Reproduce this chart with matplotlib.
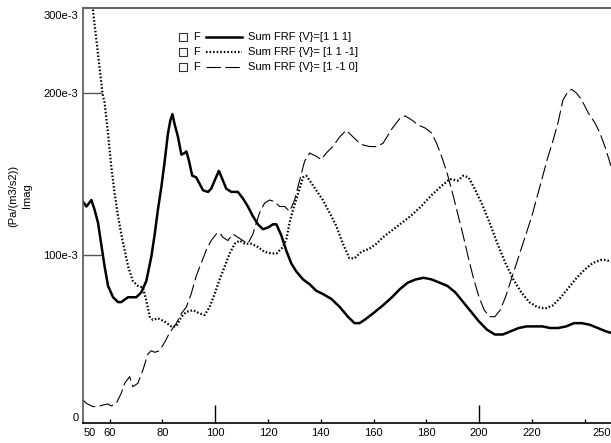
import matplotlib
matplotlib.use("Agg")
import matplotlib.pyplot as plt
from matplotlib.ticker import FixedLocator, FixedFormatter

plt.rcParams['font.family'] = ['Liberation Sans', 'DejaVu Sans']
plt.rcParams['font.size'] = 8

# ---- data ----
f_111 = [49.9, 51.2, 53.1, 54.3, 55.6, 56.8, 58.1, 59.4, 61.3, 63.2, 64.4, 67.0, 70.1, 72.0,
         73.9, 75.8, 77.1, 78.3, 79.6, 80.8, 82.1, 83.0, 83.8, 84.6, 85.9, 87.2, 88.4, 89.1,
         90.1, 91.3, 92.8, 94.1, 95.4, 97.3, 98.5, 99.8, 101.4, 102.7, 104.2, 106.1, 108.6,
         110.5, 112.4, 114.3, 116.2, 118.1, 120.0, 121.9, 123.2, 125.1, 126.9, 128.8, 130.7,
         133.3, 135.8, 138.3, 140.8, 144.0, 147.2, 150.3, 152.8, 154.7, 156.6, 159.8, 163.6,
         167, 170, 173, 176, 179, 182, 185, 188, 191, 194, 197, 200, 203, 206, 209, 212,
         215, 218, 221, 224, 227, 230, 233, 236, 239, 242, 245, 248, 250]
v_111 = [0.133, 0.130, 0.134, 0.128, 0.120, 0.107, 0.093, 0.081, 0.074, 0.071, 0.071, 0.074,
         0.074, 0.077, 0.084, 0.099, 0.113, 0.128, 0.142, 0.157, 0.175, 0.183, 0.187, 0.181,
         0.173, 0.162, 0.163, 0.164, 0.158, 0.149, 0.148, 0.144, 0.140, 0.139, 0.141, 0.146,
         0.152, 0.147, 0.141, 0.139, 0.139, 0.135, 0.130, 0.124, 0.119, 0.116, 0.117, 0.119,
         0.119, 0.112, 0.103, 0.095, 0.090, 0.085, 0.082, 0.078, 0.076, 0.073, 0.068, 0.062,
         0.058, 0.058, 0.060, 0.064, 0.069,
         0.074, 0.079, 0.083, 0.085, 0.086, 0.085, 0.083, 0.081, 0.077, 0.071, 0.065, 0.059,
         0.054, 0.051, 0.051, 0.053, 0.055, 0.056, 0.056, 0.056, 0.055, 0.055, 0.056, 0.058,
         0.058, 0.057, 0.055, 0.053, 0.052]

f_11m1 = [49.9, 53.6, 57.3, 58.1, 59.4, 60.6, 61.9, 63.2, 64.4, 65.7, 67.0, 68.8, 70.7, 72.6,
          73.9, 75.2, 76.4, 78.3, 80.8, 83.4, 85.3, 87.2, 89.1, 91.6, 94.1, 96.0, 97.9, 99.8,
          101.7, 103.6, 105.5, 107.4, 109.3, 111.2, 113.7, 116.2, 118.7, 121.3, 123.2, 125.7,
          127.0, 128.2, 129.5, 131.4, 133.3, 134.5, 135.8, 138.3, 140.8, 143.4, 145.9, 148.4,
          150.9, 152.8, 155.4, 158.5, 161.1, 163.6,
          166, 170, 174, 178, 182, 186, 189, 192, 194, 196, 198, 201, 204, 207, 210, 213,
          216, 219, 222, 225, 228, 231, 234, 237, 240, 243, 246, 248, 250]
v_11m1 = [0.298, 0.2525, 0.200, 0.194, 0.175, 0.155, 0.138, 0.124, 0.113, 0.103, 0.093, 0.084,
          0.081, 0.080, 0.072, 0.062, 0.060, 0.061, 0.059, 0.056, 0.056, 0.062, 0.065, 0.066,
          0.064, 0.063, 0.068, 0.076, 0.085, 0.093, 0.101, 0.107, 0.109, 0.107, 0.107, 0.105,
          0.102, 0.101, 0.101, 0.105, 0.110, 0.120, 0.128, 0.138, 0.148, 0.149, 0.146, 0.140,
          0.134, 0.126, 0.118, 0.107, 0.098, 0.098, 0.102, 0.104, 0.107, 0.111,
          0.114, 0.119, 0.124, 0.130, 0.137, 0.143, 0.147, 0.146, 0.149, 0.148, 0.142, 0.132,
          0.120, 0.107, 0.095, 0.085, 0.077, 0.071, 0.068, 0.067, 0.069, 0.074, 0.080, 0.086,
          0.091, 0.095, 0.097, 0.097, 0.096]

f_1m10 = [49.9, 51.2, 52.4, 53.7, 55.6, 57.5, 59.4, 60.6, 62.5, 64.4, 65.7, 67.6, 68.8, 70.7,
          72.6, 74.5, 75.8, 77.1, 78.9, 80.8, 82.7, 85.3, 87.2, 89.1, 90.9, 92.8, 94.7, 96.6,
          98.5, 100.4, 101.7, 102.9, 104.8, 106.7, 108.6, 110.5, 112.4, 114.3, 115.6, 116.8,
          118.7, 120.6, 122.5, 124.4, 126.3, 128.2, 130.1, 132.0, 133.9, 135.8, 138.3, 140.2,
          142.1, 144.6, 147.2, 149.7, 152.2, 154.1, 156.0, 158.5, 161.1, 163.6,
          167, 170.0, 172.0, 174.5, 176.9, 179.5, 182.0, 183.9, 186, 188, 190, 192, 194, 196,
          198, 200, 202, 204, 206, 208, 210, 212, 214, 216, 218, 220, 222, 224, 226, 228.1,
          229.9, 231.8, 233.7, 235.1, 237.0, 238.9, 241.4, 243.9, 245.8, 247.7, 250]
v_1m10 = [0.0106, 0.0085, 0.0075, 0.0065, 0.0065, 0.0075, 0.0081, 0.0069, 0.0085, 0.0147,
          0.0209, 0.025, 0.0188, 0.0209, 0.029, 0.039, 0.041, 0.040, 0.041, 0.046, 0.052, 0.058,
          0.064, 0.068, 0.076, 0.087, 0.095, 0.103, 0.109, 0.113, 0.114, 0.111, 0.109, 0.113,
          0.111, 0.109, 0.107, 0.113, 0.120, 0.126, 0.132, 0.134, 0.133, 0.130, 0.130, 0.127,
          0.134, 0.146, 0.158, 0.163, 0.161, 0.159, 0.163, 0.167, 0.173, 0.177, 0.173, 0.170,
          0.168, 0.167, 0.167, 0.169,
          0.178, 0.1844, 0.1859, 0.1834, 0.1803, 0.1785, 0.1754, 0.169, 0.160, 0.150, 0.138,
          0.125, 0.112, 0.098, 0.085, 0.074, 0.066, 0.062, 0.062, 0.066, 0.074, 0.084, 0.094,
          0.104, 0.114, 0.124, 0.136, 0.148, 0.160, 0.1711, 0.1816, 0.1957, 0.2009, 0.2023,
          0.1999, 0.1957, 0.1877, 0.1816, 0.1754, 0.1669, 0.155]

series_labels = ["Sum FRF {V}=[1 1 1]", "Sum FRF {V}= [1 1 -1]", "Sum FRF {V}= [1 -1 0]"]

x_major = [100, 200]
x_minor = [50, 60, 80, 120, 140, 160, 180, 220, 240, 250]
x_minor_labels = ['50', '60', '80', '120', '140', '160', '180', '220', '', '250']
y_ticks = [0.0, 0.1, 0.2, 0.2482]
y_tick_labels = ['0', '100e-3', '200e-3', '300e-3']

# ---- figure ----
fig = plt.figure(figsize=(6.11, 4.43), dpi=100)
ax = fig.add_axes([82.7 / 611, 19.7 / 443, 1 - 82.7 / 611, (423.3 - 8) / 443])

l1, = ax.plot(f_111, v_111, color='black', lw=1.8, solid_joinstyle='round')
l2, = ax.plot(f_11m1, v_11m1, color='black', lw=1.6, linestyle=(0, (0.7, 0.9)),
              dash_capstyle='butt')
l3, = ax.plot(f_1m10, v_1m10, color='black', lw=0.8, linestyle=(0, (13, 4)))

ax.set_xlim(49.8, 250)
ax.set_ylim(-0.0038, 0.2525)

ax.xaxis.set_major_locator(FixedLocator(x_major))
ax.set_xticklabels([str(v) for v in x_major])
ax.xaxis.set_minor_locator(FixedLocator(x_minor))
ax.xaxis.set_minor_formatter(FixedFormatter(x_minor_labels))
ax.tick_params(axis='x', which='major', direction='in', length=13, width=1, color='black',
               pad=3.5, labelsize=8)
ax.tick_params(axis='x', which='minor', direction='in', length=3, width=1, color='black',
               pad=3.5, labelsize=8)
mlabels = ax.xaxis.get_minor_ticks()
mlabels[0].label1.set_horizontalalignment('left')
mlabels[-1].label1.set_horizontalalignment('right')
mlabels[0].tick1line.set_visible(False)
mlabels[-1].tick1line.set_visible(False)

ax.set_yticks(y_ticks)
ax.set_yticklabels(y_tick_labels)
ax.tick_params(axis='y', which='major', direction='in', length=13.5, width=1, color='#555555',
               pad=3.2, labelsize=8)
yt = ax.yaxis.get_major_ticks()
yt[0].tick1line.set_visible(False)
yt[-1].tick1line.set_visible(False)

ax.spines['right'].set_visible(False)
ax.spines['top'].set_color('#666666')
ax.spines['top'].set_linewidth(1.5)
ax.spines['left'].set_color('#555555')
ax.spines['left'].set_linewidth(1.2)
ax.spines['bottom'].set_color('black')
ax.spines['bottom'].set_linewidth(1.2)

fig.text(20 / 611, 1 - 196 / 443, "(Pa/(m3/s2))\nImag", rotation=90, ha='center',
         va='center', multialignment='center', linespacing=1.45, fontsize=8)

# ---- legend (manual, as in the reference) ----
rows_y = [0.930, 0.894, 0.858]
styles = [dict(lw=1.8, linestyle='-'),
          dict(lw=1.6, linestyle=(0, (0.7, 0.9)), dash_capstyle='butt'),
          dict(lw=0.8, linestyle=(0, (13, 4)))]
for yy, lab, st in zip(rows_y, series_labels, styles):
    ax.plot([0.190], [yy], marker='s', markersize=6, markerfacecolor='white',
            markeredgecolor='#333333', markeredgewidth=0.8, linestyle='none',
            transform=ax.transAxes, clip_on=False)
    ax.text(0.209, yy, "F", transform=ax.transAxes, va='center', ha='left', fontsize=8)
    ax.plot([0.2335, 0.3015], [yy, yy], color='black', transform=ax.transAxes, **st)
    ax.text(0.313, yy, lab, transform=ax.transAxes, va='center', ha='left', fontsize=8)

fig.savefig("out.png", dpi=100)
